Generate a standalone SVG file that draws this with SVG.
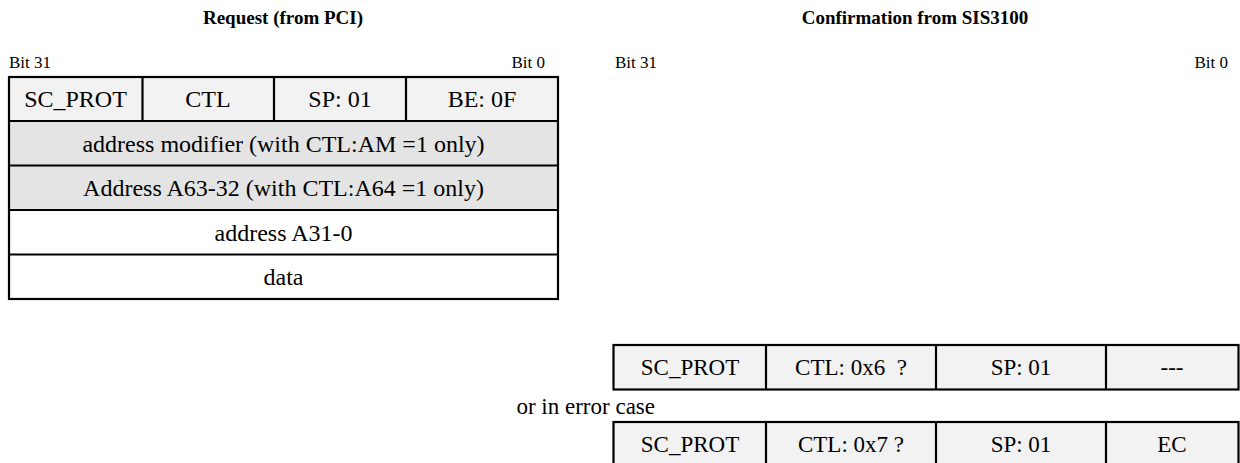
<svg xmlns="http://www.w3.org/2000/svg" width="1240" height="463" viewBox="0 0 1240 463">
<style>
.t{font-family:"Liberation Serif","Times New Roman",serif;fill:#000}
.title{font-size:19px;font-weight:bold;text-anchor:middle}
.bit{font-size:17px}
.cell{font-size:24px;text-anchor:middle}
.cell2{font-size:23px;text-anchor:middle}
.hdr{fill:#f2f2f2}
.gry{fill:#e4e4e4}
.wht{fill:#fff}
.ln{stroke:#000;stroke-width:2.2;fill:none}
</style>
<rect width="1240" height="463" fill="#fff"/>
<g id="titles">
<text class="t title" x="283" y="24">Request (from PCI)</text>
<text class="t title" x="915" y="24">Confirmation from SIS3100</text>
<text class="t bit" x="9" y="68">Bit 31</text>
<text class="t bit" x="545" y="68" text-anchor="end">Bit 0</text>
<text class="t bit" x="615" y="68">Bit 31</text>
<text class="t bit" x="1228" y="68" text-anchor="end">Bit 0</text>
</g>
<g id="request">
<rect class="hdr" x="9" y="77" width="549" height="44"/>
<rect class="gry" x="9" y="121" width="549" height="89"/>
<rect class="wht" x="9" y="210" width="549" height="89"/>
<path class="ln" d="M9 121H558M9 165.5H558M9 210H558M9 254.5H558M142.5 77V121M274 77V121M406 77V121"/>
<rect class="ln" x="9" y="77" width="549" height="222"/>
<text class="t cell" x="75.5" y="107">SC_PROT</text>
<text class="t cell" x="208" y="107">CTL</text>
<text class="t cell" x="340" y="107">SP: 01</text>
<text class="t cell" x="482" y="107">BE: 0F</text>
<text class="t cell" x="283.5" y="151.5">address modifier (with CTL:AM =1 only)</text>
<text class="t cell" x="283.5" y="196">Address A63-32 (with CTL:A64 =1 only)</text>
<text class="t cell" x="283.5" y="240.5">address A31-0</text>
<text class="t cell" x="283.5" y="285">data</text>
</g>
<g id="confirm-ok">
<rect class="hdr" x="613.5" y="345" width="625" height="44.5"/>
<path class="ln" d="M766 345V389.5M936 345V389.5M1106 345V389.5"/>
<rect class="ln" x="613.5" y="345" width="625" height="44.5"/>
<text class="t cell2" x="690" y="375">SC_PROT</text>
<text class="t cell2" x="851" y="375" xml:space="preserve">CTL: 0x6  ?</text>
<text class="t cell2" x="1021" y="375">SP: 01</text>
<text class="t cell2" x="1172" y="375">---</text>
</g>
<text id="or-label" class="t" x="655" y="414" font-size="23" text-anchor="end">or in error case</text>
<g id="confirm-err">
<rect class="hdr" x="613.5" y="422" width="625" height="44.5"/>
<path class="ln" d="M766 422V466.5M936 422V466.5M1106 422V466.5"/>
<rect class="ln" x="613.5" y="422" width="625" height="44.5"/>
<text class="t cell2" x="690" y="452">SC_PROT</text>
<text class="t cell2" x="851" y="452">CTL: 0x7 ?</text>
<text class="t cell2" x="1021" y="452">SP: 01</text>
<text class="t cell2" x="1172" y="452">EC</text>
</g>
</svg>
